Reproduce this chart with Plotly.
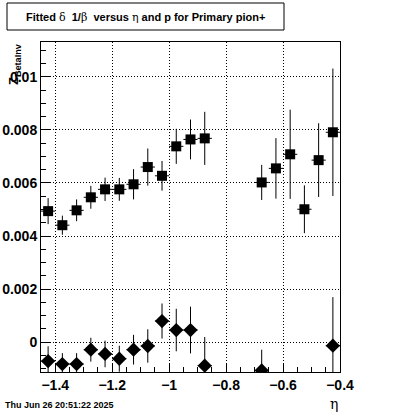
import plotly.graph_objects as go

# ---- data ----
sq_eta = [-1.425, -1.375, -1.325, -1.275, -1.225, -1.175, -1.125, -1.075, -1.025, -0.975, -0.925, -0.875,
          -0.675, -0.625, -0.575, -0.525, -0.475, -0.425]
sq_val = [0.00494, 0.00441, 0.00497, 0.00546, 0.00576, 0.00576, 0.00595, 0.00660, 0.00627, 0.00738, 0.00764, 0.00768,
          0.00602, 0.00655, 0.00708, 0.00501, 0.00686, 0.00791]
sq_err = [0.00049, 0.00036, 0.00041, 0.00043, 0.00044, 0.00043, 0.00057, 0.00070, 0.00056, 0.00066, 0.00075, 0.00100,
          0.00066, 0.00114, 0.00168, 0.00090, 0.00139, 0.00240]

dm_eta = [-1.425, -1.375, -1.325, -1.275, -1.225, -1.175, -1.125, -1.075, -1.025, -0.975, -0.925, -0.875,
          -0.675, -0.425]
dm_val = [-0.00071, -0.00082, -0.00082, -0.00028, -0.00044, -0.00062, -0.00028, -0.00014, 0.00080, 0.00046, 0.00046, -0.00088,
          -0.00106, -0.00013]
dm_err = [0.00056, 0.00041, 0.00041, 0.00045, 0.00050, 0.00049, 0.00056, 0.00063, 0.00066, 0.00080, 0.00088, 0.00108,
          0.00078, 0.00183]

half_bin = 0.025
x_range = [-1.45, -0.4]
y_range = [-0.00112, 0.01131]

x_tickvals = [-1.4, -1.2, -1.0, -0.8, -0.6, -0.4]
x_ticktext = ["\u22121.4", "\u22121.2", "\u22121", "\u22120.8", "\u22120.6", "\u22120.4"]
y_tickvals = [0, 0.002, 0.004, 0.006, 0.008, 0.01]
y_ticktext = ["0", "0.002", "0.004", "0.006", "0.008", "0.01"]

title_text = "Fitted <span style='font-family:DejaVu Serif;font-weight:normal'>δ</span>  1/<span style='font-family:DejaVu Serif;font-weight:normal'>β</span>  versus <span style='font-family:DejaVu Serif;font-weight:normal'>η</span> and p for Primary pion+"
date_text = "Thu Jun 26 20:51:22 2025"
x_title = "η"
y_title = "Z<sub>BetaInv</sub>"

W, H = 400, 414
L, R, T, B = 41, 60, 42, 42
pw, ph = W - L - R, H - T - B


def px(x):
    return (x - L) / pw


def py(y):
    return (H - B - y) / ph


fig = go.Figure()
fig.add_trace(go.Scatter(
    x=sq_eta, y=sq_val, mode="markers",
    marker=dict(symbol="square", size=10, color="black"),
    error_y=dict(type="data", array=sq_err, color="black", thickness=1, width=0),
    error_x=dict(type="constant", value=half_bin, color="black", thickness=1, width=0),
    showlegend=False, cliponaxis=True, hoverinfo="skip"))
fig.add_trace(go.Scatter(
    x=dm_eta, y=dm_val, mode="markers",
    marker=dict(symbol="diamond", size=11, color="black"),
    error_y=dict(type="data", array=dm_err, color="black", thickness=1, width=0),
    error_x=dict(type="constant", value=half_bin, color="black", thickness=1, width=0),
    showlegend=False, cliponaxis=True, hoverinfo="skip"))

tickfont = dict(family="Liberation Sans", size=14, color="black", weight="bold")
grid_dash = "1px,2px"

fig.update_xaxes(range=x_range, showline=True, linecolor="black", linewidth=1, mirror=True,
                 ticks="inside", ticklen=9, tickwidth=1, tickcolor="black",
                 tickmode="array", tickvals=x_tickvals, ticktext=x_ticktext, tickangle=0,
                 tickfont=tickfont, automargin=False, ticklabelstandoff=0,
                 showgrid=True, gridcolor="black", griddash=grid_dash, gridwidth=1,
                 zeroline=False,
                 minor=dict(dtick=0.05, tick0=-1.4, ticks="inside", ticklen=5, tickcolor="black", showgrid=False))
fig.update_yaxes(range=y_range, showline=True, linecolor="black", linewidth=1, mirror=True,
                 ticks="inside", ticklen=9, tickwidth=1, tickcolor="black",
                 tickmode="array", tickvals=y_tickvals, ticktext=y_ticktext,
                 tickfont=tickfont, automargin=False,
                 showgrid=True, gridcolor="black", griddash=grid_dash, gridwidth=1,
                 zeroline=False,
                 minor=dict(dtick=0.0005, tick0=0, ticks="inside", ticklen=5, tickcolor="black", showgrid=False))

fig.add_shape(type="rect", xref="paper", yref="paper",
              x0=px(7), x1=px(284), y0=py(30), y1=py(3),
              line=dict(color="black", width=1), fillcolor="white")

fig.add_annotation(text="<b>" + title_text + "</b>", xref="paper", yref="paper",
                   x=px(145), y=py(17), xanchor="center", yanchor="middle", showarrow=False,
                   font=dict(family="Liberation Sans", size=11, color="black"))
fig.add_annotation(text="<b>" + date_text + "</b>", xref="paper", yref="paper",
                   x=px(3), y=py(405), xanchor="left", yanchor="middle", showarrow=False,
                   font=dict(family="Liberation Sans", size=9, color="black"))
fig.add_annotation(text=x_title, xref="paper", yref="paper",
                   x=px(334), y=py(404), xanchor="center", yanchor="middle", showarrow=False,
                   font=dict(family="DejaVu Serif", size=14, color="black"))
fig.add_annotation(text="<b>" + y_title + "</b>", xref="paper", yref="paper",
                   x=px(14), y=py(64), xanchor="center", yanchor="middle", showarrow=False,
                   textangle=-90,
                   font=dict(family="Liberation Sans", size=13, color="black"))

fig.update_layout(width=W, height=H, margin=dict(l=L, r=R, t=T, b=B, autoexpand=False),
                  paper_bgcolor="white", plot_bgcolor="white", showlegend=False,
                  hovermode=False)

fig.write_html("out.html", config={"displayModeBar": False},
               post_script="document.body.style.margin='0px';")
